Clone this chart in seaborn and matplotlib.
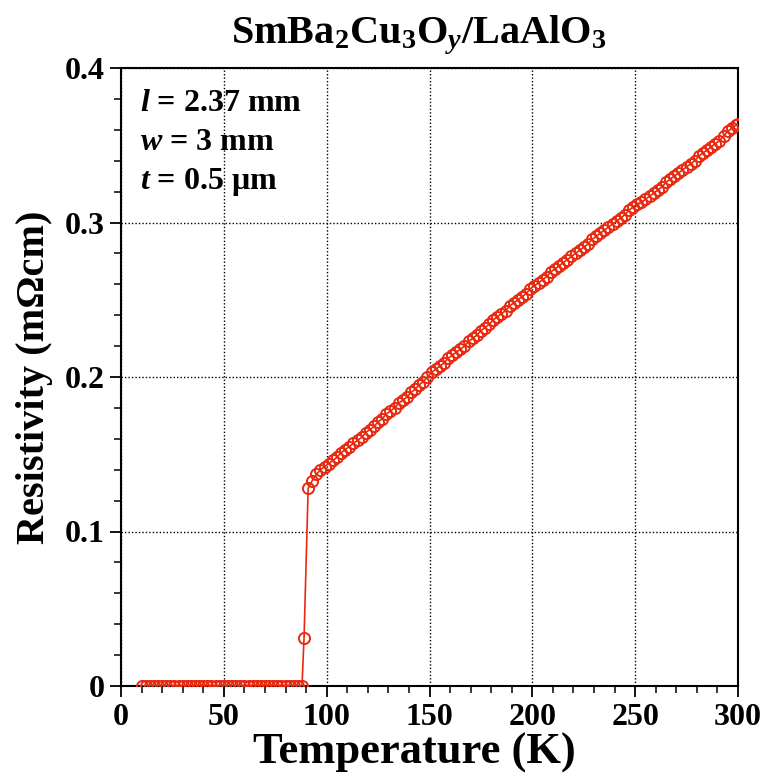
import matplotlib
matplotlib.use("Agg")
import matplotlib.pyplot as plt
from matplotlib.ticker import MultipleLocator
import seaborn as sns
import pandas as pd

# ---- data ----
temp_low = [10, 12, 14, 16, 18, 20, 22, 24, 26, 28, 30, 32, 34, 36, 38, 40,
            42, 44, 46, 48, 50, 52, 54, 56, 58, 60, 62, 64, 66, 68, 70, 72,
            74, 76, 78, 80, 82, 84, 86, 88]
res_low = [0.0, 0.0, 0.0, 0.0, 0.0, 0.0, 0.0, 0.0, 0.0, 0.0, 0.0, 0.0, 0.0,
           0.0, 0.0, 0.0, 0.0, 0.0, 0.0, 0.0, 0.0, 0.0, 0.0, 0.0, 0.0, 0.0,
           0.0, 0.0, 0.0, 0.0, 0.0, 0.0, 0.0, 0.0, 0.0, 0.0, 0.0, 0.0, 0.0, 0.0]
temp_trans = [89]
res_trans = [0.031]
temp_high = [91, 93, 95, 97, 99, 101, 103, 105, 107, 109,
             111, 113, 115, 117, 119, 121, 123, 125, 127, 129,
             131, 133, 135, 137, 139, 141, 143, 145, 147, 149,
             151, 153, 155, 157, 159, 161, 163, 165, 167, 169,
             171, 173, 175, 177, 179, 181, 183, 185, 187, 189,
             191, 193, 195, 197, 199, 201, 203, 205, 207, 209,
             211, 213, 215, 217, 219, 221, 223, 225, 227, 229,
             231, 233, 235, 237, 239, 241, 243, 245, 247, 249,
             251, 253, 255, 257, 259, 261, 263, 265, 267, 269,
             271, 273, 275, 277, 279, 281, 283, 285, 287, 289,
             291, 293, 295, 297, 299, 300]
res_high = [0.128, 0.133, 0.137, 0.140, 0.142, 0.144, 0.146, 0.148, 0.151, 0.153,
            0.155, 0.157, 0.159, 0.161, 0.164, 0.166, 0.168, 0.171, 0.173, 0.176,
            0.178, 0.180, 0.183, 0.185, 0.187, 0.190, 0.192, 0.195, 0.197, 0.200,
            0.203, 0.205, 0.207, 0.209, 0.212, 0.214, 0.216, 0.218, 0.220, 0.223,
            0.225, 0.227, 0.230, 0.232, 0.234, 0.237, 0.239, 0.241, 0.243, 0.246,
            0.248, 0.250, 0.252, 0.254, 0.257, 0.259, 0.261, 0.263, 0.265, 0.268,
            0.270, 0.272, 0.274, 0.276, 0.278, 0.280, 0.282, 0.284, 0.286, 0.289,
            0.291, 0.293, 0.295, 0.297, 0.299, 0.301, 0.303, 0.305, 0.308, 0.310,
            0.312, 0.313, 0.315, 0.317, 0.319, 0.321, 0.323, 0.326, 0.328, 0.330,
            0.332, 0.334, 0.336, 0.338, 0.340, 0.343, 0.345, 0.347, 0.349, 0.351,
            0.353, 0.356, 0.359, 0.361, 0.363, 0.364]

x_ticks = [0, 50, 100, 150, 200, 250, 300]
y_ticks = [0.0, 0.1, 0.2, 0.3, 0.4]
y_tick_labels = ["0", "0.1", "0.2", "0.3", "0.4"]

title = "SmBa$_2$Cu$_3$O$_{y}$/LaAlO$_3$"
x_label = "Temperature (K)"
y_label = "Resistivity (m\u03a9cm)"
annotations = ["$l$ = 2.37 mm", "$w$ = 3 mm", "$t$ = 0.5 \u03bcm"]

# ---- style ----
sns.set_theme(style="white")
plt.rcParams["font.family"] = ["Liberation Serif", "DejaVu Serif"]
plt.rcParams["font.weight"] = "bold"
plt.rcParams["text.color"] = "black"
plt.rcParams["axes.labelcolor"] = "black"
plt.rcParams["axes.titlecolor"] = "black"
plt.rcParams["mathtext.fontset"] = "custom"
plt.rcParams["mathtext.rm"] = "Liberation Serif:bold"
plt.rcParams["mathtext.it"] = "Liberation Serif:italic:bold"
plt.rcParams["mathtext.bf"] = "Liberation Serif:bold"

red = "#e8290f"

df = pd.DataFrame({
    "T": temp_low + temp_trans + temp_high,
    "R": res_low + res_trans + res_high,
})

fig = plt.figure(figsize=(7.65, 7.84), dpi=100)
ax = fig.add_axes([121 / 765, 1 - 686 / 784, (738 - 121) / 765, (686 - 68) / 784])

sns.lineplot(data=df, x="T", y="R", ax=ax, sort=False, color=red, lw=1.2,
             marker="o", markersize=8, markerfacecolor="none",
             markeredgecolor=red, markeredgewidth=1.4, zorder=3)

ax.set_xlim(0, 300)
ax.set_ylim(0, 0.4)
ax.set_xticks(x_ticks)
ax.set_yticks(y_ticks)
ax.set_yticklabels(y_tick_labels)
ax.xaxis.set_minor_locator(MultipleLocator(10))
ax.yaxis.set_minor_locator(MultipleLocator(0.02))

ax.grid(True, which="major", color="black", linestyle=(0, (1, 1.5)), linewidth=1.0)
ax.set_axisbelow(True)

for s in ax.spines.values():
    s.set_color("black")
    s.set_linewidth(1.5)
    s.set_visible(True)

ax.tick_params(axis="both", which="major", direction="out", length=8, width=1.3,
               labelsize=23, colors="black", bottom=True, left=True, top=False, right=False,
               pad=4)
ax.tick_params(axis="both", which="minor", direction="out", length=5, width=1.1,
               colors="black", bottom=True, left=True, top=False, right=False)
for lbl in ax.get_xticklabels() + ax.get_yticklabels():
    lbl.set_fontweight("bold")

ax.set_xlabel(x_label, fontsize=32, fontweight="bold", color="black")
ax.xaxis.set_label_coords(0.476, -0.075)
ax.xaxis.label.set_va("top")
ax.set_ylabel(y_label, fontsize=29, fontweight="bold", labelpad=8, color="black")
ax.set_title(title, fontsize=29, fontweight="bold", pad=18, x=0.482, color="black")

for i, txt in enumerate(annotations):
    ax.text(0.03, 0.943 - i * 0.064, txt, transform=ax.transAxes,
            fontsize=23, fontweight="bold", ha="left", va="center", color="black")

fig.savefig("out.png", dpi=100)
